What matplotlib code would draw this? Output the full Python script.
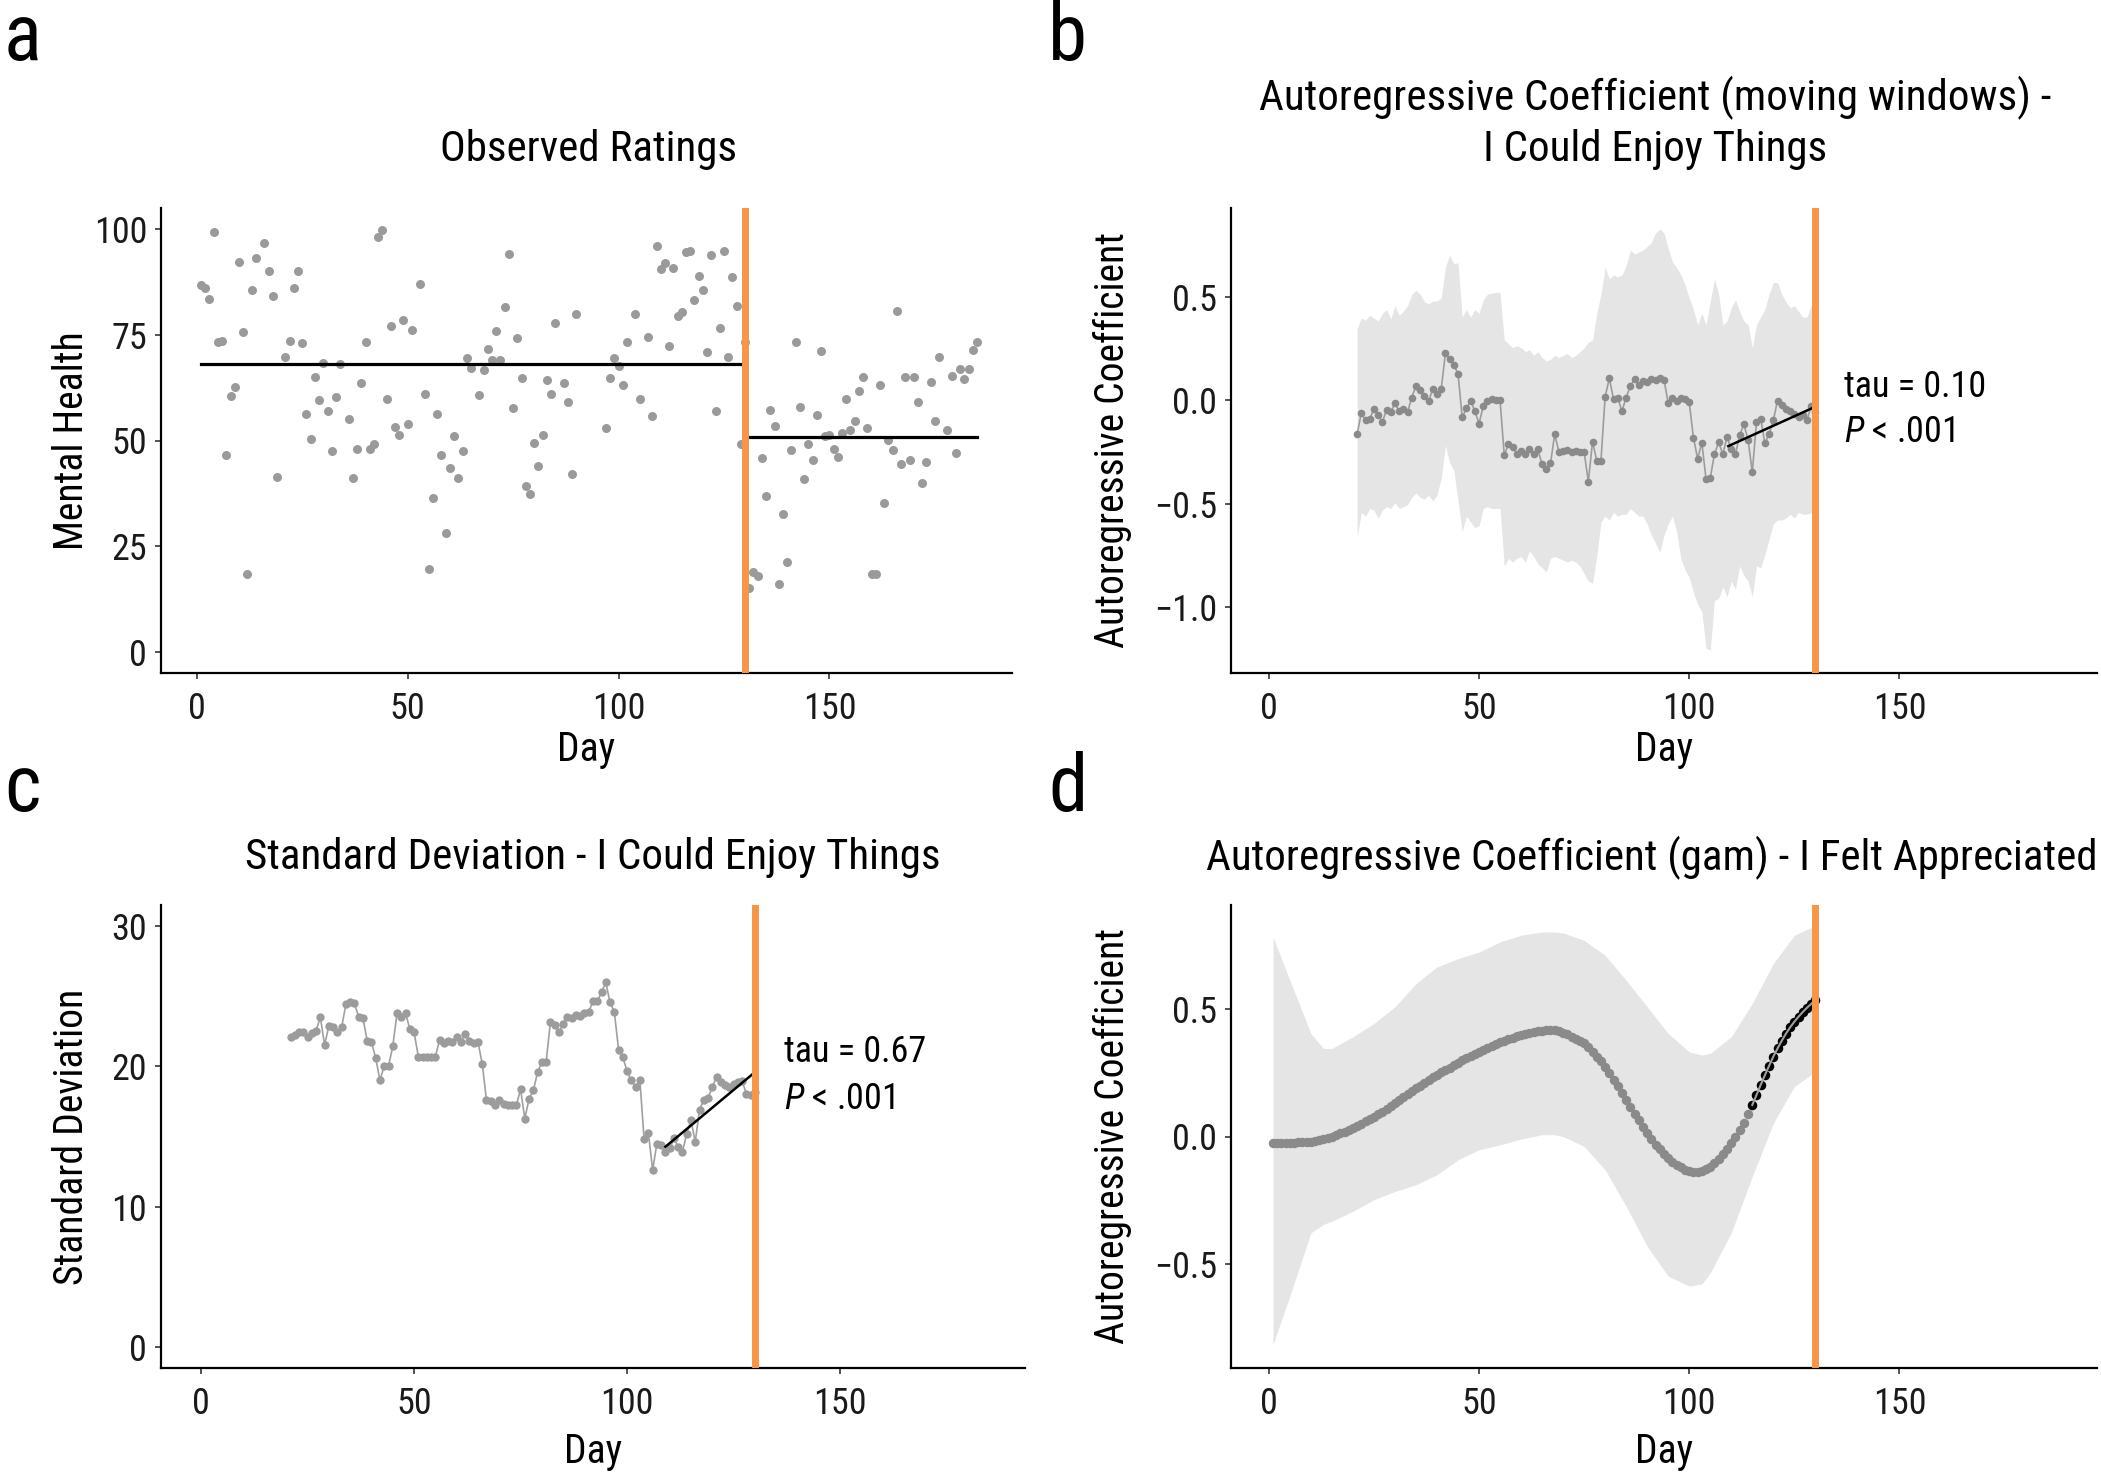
import numpy as np
import matplotlib
matplotlib.use("Agg")
import matplotlib.pyplot as plt
import matplotlib.ticker as mticker
from matplotlib import font_manager as fm

# condensed sans (Helvetica Condensed look-alike), first one installed
installed = set(f.name for f in fm.fontManager.ttflist)
FONT = 'DejaVu Sans'
for cand in ['Liberation Sans Narrow', 'Nimbus Sans Narrow', 'Roboto Condensed',
             'Archivo Narrow', 'PT Sans Narrow', 'Barlow Semi Condensed']:
    if cand in installed:
        FONT = cand
        break
plt.rcParams['font.family'] = [FONT, 'DejaVu Sans']
plt.rcParams['mathtext.fontset'] = 'custom'
plt.rcParams['mathtext.it'] = FONT + ':italic'
plt.rcParams['mathtext.rm'] = FONT

# ---------------- data ----------------
# panel a: observed ratings
obs_days = [1, 2, 3, 4, 5, 6, 7, 8, 9, 10, 11, 12, 13, 14, 16, 17, 18, 19, 21, 22,
            23, 24, 25, 26, 27, 28, 29, 30, 31, 32, 33, 34, 36, 37, 38, 39, 40, 41, 42, 43,
            44, 45, 46, 47, 48, 49, 50, 51, 53, 54, 55, 56, 57, 58, 59, 60, 61, 62, 63, 64,
            65, 67, 68, 69, 70, 71, 72, 73, 74, 75, 76, 77, 78, 79, 80, 81, 82, 83, 84, 85,
            87, 88, 89, 90, 97, 98, 99, 100, 101, 102, 104, 105, 107, 108, 109, 110, 111, 112, 113, 114,
            115, 116, 117, 118, 119, 120, 121, 122, 123, 124, 125, 126, 127, 128, 129, 130,
            131, 132, 133, 134, 135, 136, 137, 138, 139, 140, 141, 142, 143, 144, 145, 146, 147, 148, 149, 150,
            151, 152, 153, 154, 155, 156, 157, 158, 159, 160, 161, 162, 163, 164, 165, 166, 167, 168, 169, 170,
            171, 172, 173, 174, 175, 176, 178, 179, 180, 181, 182, 183, 184, 185]
obs_vals = [86.9, 86.0, 83.5, 99.4, 73.2, 73.6, 46.6, 60.5, 62.7, 92.2, 75.6, 18.5, 85.6, 93.1, 96.8, 90.1, 84.2, 41.4, 69.8, 73.6,
            86.0, 90.1, 73.0, 56.3, 50.4, 65.1, 59.6, 68.3, 57.0, 47.4, 60.4, 68.0, 55.2, 41.1, 48.1, 63.5, 73.3, 48.1, 49.1, 98.2,
            99.8, 59.8, 77.2, 53.1, 51.2, 78.5, 54.0, 76.2, 87.0, 60.9, 19.7, 36.5, 56.3, 46.5, 28.2, 43.5, 51.1, 41.1, 47.4, 69.5,
            67.2, 60.8, 66.6, 71.7, 69.1, 75.8, 69.1, 81.5, 94.1, 57.8, 74.2, 64.9, 39.3, 37.4, 49.3, 44.0, 51.4, 64.3, 61.0, 77.9,
            63.5, 59.0, 42.0, 80.0, 53.0, 64.7, 69.6, 67.7, 63.2, 73.2, 80.0, 59.8, 74.6, 55.7, 96.1, 90.5, 92.1, 72.3, 90.8, 79.5,
            80.3, 94.7, 94.8, 83.3, 88.9, 85.5, 71.0, 93.8, 57.0, 76.6, 94.9, 69.8, 88.6, 81.7, 49.1, 73.3,
            15.2, 18.9, 17.9, 45.9, 36.9, 57.1, 53.4, 16.0, 32.6, 21.2, 47.8, 73.2, 58.0, 40.8, 49.2, 45.5, 56.1, 71.2, 51.0, 51.4,
            48.1, 46.2, 51.8, 59.8, 52.5, 54.5, 61.6, 65.0, 53.0, 18.4, 18.4, 63.1, 35.2, 50.1, 47.8, 80.7, 44.5, 65.0, 45.3, 65.0,
            59.1, 39.9, 45.0, 63.8, 54.5, 69.7, 52.5, 65.2, 47.1, 66.9, 64.6, 66.9, 71.4, 73.2]
pre_mean = 68.1
post_mean = 50.9
transition_day = 130

# panel b: moving-window AR coefficient, days 21..130
ar_days = list(range(21, 131))
ar_vals = [-0.165, -0.061, -0.098, -0.09, -0.043, -0.07, -0.106, -0.048, -0.056, -0.015,
           -0.052, -0.043, -0.057, 0.013, 0.069, 0.05, 0.022, -0.006, 0.054, 0.031,
           0.054, 0.226, 0.198, 0.17, 0.128, -0.083, -0.039, -0.002, -0.052, -0.113,
           -0.03, -0.002, 0.004, 0.0, 0.0, -0.265, -0.213, -0.228, -0.261, -0.246,
           -0.261, -0.237, -0.261, -0.237, -0.311, -0.333, -0.306, -0.165, -0.25, -0.246,
           -0.239, -0.25, -0.246, -0.25, -0.25, -0.394, -0.2, -0.293, -0.293, 0.017,
           0.106, 0.004, 0.009, -0.052, 0.013, 0.069, 0.102, 0.072, 0.091, 0.087,
           0.102, 0.096, 0.109, 0.1, -0.015, 0.009, -0.002, 0.013, 0.004, -0.011,
           -0.181, -0.283, -0.206, -0.381, -0.376, -0.261, -0.204, -0.261, -0.178, -0.237,
           -0.261, -0.169, -0.117, -0.191, -0.348, -0.107, -0.089, -0.209, -0.163, -0.098,
           -0.002, -0.024, -0.043, -0.052, -0.065, -0.08, -0.07, -0.098, -0.028, -0.057]
ar_upper = [0.346, 0.398, 0.387, 0.411, 0.398, 0.383, 0.420, 0.439, 0.393, 0.457,
            0.411, 0.430, 0.457, 0.513, 0.531, 0.513, 0.476, 0.467, 0.480, 0.480,
            0.494, 0.643, 0.702, 0.661, 0.665, 0.402, 0.439, 0.402, 0.439, 0.420,
            0.485, 0.513, 0.517, 0.522, 0.522, 0.291, 0.272, 0.254, 0.263, 0.254,
            0.235, 0.244, 0.217, 0.235, 0.207, 0.189, 0.198, 0.217, 0.207, 0.217,
            0.226, 0.207, 0.217, 0.235, 0.254, 0.281, 0.291, 0.420, 0.513, 0.643,
            0.587, 0.606, 0.596, 0.606, 0.652, 0.726, 0.707, 0.717, 0.726, 0.744,
            0.763, 0.809, 0.828, 0.809, 0.735, 0.670, 0.643, 0.606, 0.559, 0.494,
            0.439, 0.365, 0.420, 0.365, 0.476, 0.587, 0.513, 0.365, 0.383, 0.448,
            0.485, 0.430, 0.383, 0.365, 0.254, 0.365, 0.402, 0.439, 0.513, 0.569,
            0.569, 0.513, 0.476, 0.448, 0.457, 0.430, 0.402, 0.402, 0.457, 0.467]
ar_lower = [-0.663, -0.543, -0.561, -0.524, -0.533, -0.570, -0.533, -0.515, -0.524, -0.496,
            -0.524, -0.515, -0.506, -0.469, -0.450, -0.469, -0.478, -0.459, -0.487, -0.459,
            -0.376, -0.219, -0.302, -0.339, -0.487, -0.635, -0.561, -0.589, -0.617, -0.607,
            -0.524, -0.515, -0.524, -0.524, -0.524, -0.802, -0.765, -0.783, -0.765, -0.756,
            -0.783, -0.728, -0.756, -0.793, -0.811, -0.830, -0.765, -0.756, -0.765, -0.774,
            -0.783, -0.774, -0.783, -0.802, -0.839, -0.876, -0.885, -0.756, -0.589, -0.561,
            -0.580, -0.543, -0.561, -0.552, -0.552, -0.524, -0.543, -0.561, -0.561, -0.598,
            -0.654, -0.691, -0.737, -0.654, -0.598, -0.561, -0.635, -0.765, -0.820, -0.857,
            -0.931, -0.987, -1.024, -1.200, -1.209, -0.969, -0.959, -0.904, -0.950, -0.876,
            -0.913, -0.802, -0.848, -0.876, -0.950, -0.802, -0.811, -0.746, -0.672, -0.598,
            -0.580, -0.580, -0.570, -0.552, -0.570, -0.543, -0.552, -0.552, -0.543, -0.561]
ar_trend_days = [109.3, 130.4]
ar_trend_vals = [-0.222, -0.028]

# panel c: moving-window standard deviation, days 21..130
sd_days = list(range(21, 131))
sd_vals = [22.07, 22.26, 22.43, 22.43, 22.07, 22.36, 22.55, 23.49, 21.53, 22.88,
           22.83, 22.43, 22.78, 24.44, 24.56, 24.49, 23.54, 23.42, 21.84, 21.72,
           20.58, 19.0, 20.06, 20.01, 21.43, 23.78, 23.49, 23.8, 22.66, 22.43,
           20.7, 20.7, 20.7, 20.7, 20.7, 21.88, 21.65, 21.84, 21.72, 22.07,
           21.72, 22.31, 21.84, 21.65, 21.72, 20.18, 17.58, 17.53, 17.27, 17.58,
           17.34, 17.22, 17.22, 17.22, 18.36, 16.28, 17.7, 18.29, 19.59, 20.3,
           20.3, 23.14, 22.97, 22.43, 23.02, 23.49, 23.44, 23.68, 23.61, 23.78,
           23.85, 24.67, 24.63, 25.27, 25.98, 24.56, 23.89, 21.2, 20.65, 19.66,
           19.0, 18.52, 19.04, 14.79, 15.26, 12.61, 14.5, 14.38, 13.91, 14.15,
           14.86, 14.27, 13.91, 15.21, 16.16, 14.62, 16.92, 17.58, 17.77, 18.52,
           19.23, 18.88, 18.64, 18.52, 18.71, 18.88, 18.95, 18.05, 17.98, 18.17]
sd_trend_days = [109, 130.3]
sd_trend_vals = [14.27, 19.66]

# panel d: gam AR coefficient, days 1..130
gam_days = list(range(1, 131))
gam_vals = [-0.024, -0.024, -0.024, -0.024, -0.024, -0.024, -0.023, -0.022, -0.021, -0.020,
            -0.017, -0.013, -0.009, -0.005, 0.000, 0.006, 0.012, 0.018, 0.025, 0.033,
            0.041, 0.050, 0.059, 0.068, 0.078, 0.088, 0.098, 0.109, 0.119, 0.130,
            0.142, 0.154, 0.166, 0.178, 0.190, 0.200, 0.211, 0.221, 0.232, 0.242,
            0.252, 0.262, 0.271, 0.281, 0.290, 0.299, 0.308, 0.316, 0.325, 0.333,
            0.341, 0.348, 0.356, 0.363, 0.370, 0.376, 0.382, 0.389, 0.395, 0.400,
            0.404, 0.408, 0.411, 0.414, 0.416, 0.417, 0.418, 0.417, 0.413, 0.408,
            0.401, 0.393, 0.384, 0.375, 0.366, 0.350, 0.333, 0.314, 0.295, 0.274,
            0.249, 0.223, 0.197, 0.170, 0.144, 0.117, 0.090, 0.064, 0.038, 0.013,
            -0.010, -0.032, -0.051, -0.069, -0.085, -0.099, -0.111, -0.121, -0.130, -0.136,
            -0.139, -0.140, -0.137, -0.129, -0.118, -0.104, -0.088, -0.069, -0.048, -0.026,
            -0.001, 0.026, 0.055, 0.089, 0.124, 0.163, 0.203, 0.241, 0.278, 0.314,
            0.346, 0.376, 0.404, 0.429, 0.451, 0.471, 0.489, 0.506, 0.521, 0.536]
gam_band_days = [1, 5, 10, 13, 15, 20, 25, 30, 35, 40, 45, 50, 55, 60, 65, 68, 70, 75, 80,
                 85, 90, 95, 100, 103, 105, 110, 115, 120, 125, 130]
gam_upper = [0.784, 0.614, 0.405, 0.346, 0.346, 0.392, 0.444, 0.510, 0.601, 0.667, 0.699,
             0.725, 0.765, 0.791, 0.804, 0.804, 0.800, 0.771, 0.712, 0.614, 0.510, 0.405,
             0.333, 0.320, 0.327, 0.392, 0.523, 0.680, 0.791, 0.829]
gam_lower = [-0.817, -0.627, -0.379, -0.345, -0.333, -0.294, -0.248, -0.216, -0.190, -0.150,
             -0.092, -0.052, -0.033, -0.010, 0.007, 0.007, 0.000, -0.039, -0.131, -0.275,
             -0.431, -0.549, -0.588, -0.580, -0.536, -0.379, -0.157, 0.052, 0.196, 0.255]
gam_trend_start = 115

# ---------------- styling ----------------
W, H = 2101, 1476
ORANGE = '#F79646'
BAND = '#E5E5E5'
TICK_FS = 26
LABEL_FS = 28.5
TITLE_FS = 31


def rect(l, r, t, b):
    return [l / W, 1 - b / H, (r - l) / W, (b - t) / H]


def minus_fmt(v, p):
    return ('%.1f' % v).replace('-', '\u2212')


def style(ax, xlim, ylim, yticks, ylabel, ylab_x, xlab_y):
    ax.set_xlim(*xlim)
    ax.set_ylim(*ylim)
    ax.set_xticks([0, 50, 100, 150])
    ax.set_yticks(yticks)
    for s in ['top', 'right']:
        ax.spines[s].set_visible(False)
    for s in ['left', 'bottom']:
        ax.spines[s].set_linewidth(1.6)
        ax.spines[s].set_color('black')
    ax.tick_params(axis='both', labelsize=TICK_FS, length=4, width=1.2,
                   color='#333333', labelcolor='#1a1a1a')
    ax.tick_params(axis='x', pad=9)
    ax.tick_params(axis='y', pad=6)
    ax.set_xlabel('Day', fontsize=LABEL_FS)
    ax.set_ylabel(ylabel, fontsize=LABEL_FS)
    ax.yaxis.set_label_coords(ylab_x, 0.5)
    ax.xaxis.set_label_coords(0.5, xlab_y)


fig = plt.figure(figsize=(W / 100, H / 100), dpi=100)

# ---- panel a ----
ax_a = fig.add_axes(rect(161, 1012, 208, 673))
ax_a.scatter(obs_days, obs_vals, s=42, color='#9a9a9a', linewidths=0, zorder=2)
ax_a.plot([obs_days[0], transition_day], [pre_mean, pre_mean], color='black', lw=2.3, zorder=3)
ax_a.plot([transition_day, obs_days[-1]], [post_mean, post_mean], color='black', lw=2.3, zorder=3)
ax_a.axvline(transition_day, color=ORANGE, lw=5, zorder=4)
style(ax_a, (-8.5, 193.3), (-5, 105), [0, 25, 50, 75, 100], 'Mental Health', -0.082, -0.123)

# ---- panel b ----
ax_b = fig.add_axes(rect(1231, 2097, 208, 673))
ax_b.fill_between(ar_days, ar_lower, ar_upper, color=BAND, lw=0, zorder=1)
ax_b.plot(ar_days, ar_vals, color='#9c9c9c', lw=1.2, zorder=2)
ax_b.plot(ar_days, ar_vals, 'o', color='#8a8a8a', ms=5.5, mew=0, zorder=3)
ax_b.plot(ar_trend_days, ar_trend_vals, color='black', lw=1.8, zorder=4)
ax_b.axvline(transition_day, color=ORANGE, lw=5, zorder=5)
style(ax_b, (-9, 197), (-1.32, 0.93), [-1.0, -0.5, 0.0, 0.5],
      'Autoregressive Coefficient', -0.114, -0.123)
ax_b.yaxis.set_major_formatter(mticker.FuncFormatter(minus_fmt))
ax_b.text(136.9, 0.065, 'tau = 0.10', fontsize=TICK_FS, va='center', ha='left')
ax_b.text(136.9, -0.156, r'$P$ < .001', fontsize=TICK_FS, va='center', ha='left')

# ---- panel c ----
ax_c = fig.add_axes(rect(161, 1025, 905, 1368))
ax_c.plot(sd_days, sd_vals, color='#a0a0a0', lw=1.2, zorder=2)
ax_c.plot(sd_days, sd_vals, 'o', color='#9c9c9c', ms=6, mew=0, zorder=3)
ax_c.plot(sd_trend_days, sd_trend_vals, color='black', lw=1.8, zorder=4)
ax_c.axvline(transition_day, color=ORANGE, lw=5, zorder=5)
style(ax_c, (-9.4, 193.4), (-1.5, 31.5), [0, 10, 20, 30],
      'Standard Deviation', -0.081, -0.138)
ax_c.text(136.8, 21.0, 'tau = 0.67', fontsize=TICK_FS, va='center', ha='left')
ax_c.text(136.8, 17.7, r'$P$ < .001', fontsize=TICK_FS, va='center', ha='left')

# ---- panel d ----
ax_d = fig.add_axes(rect(1231, 2097, 905, 1368))
ax_d.fill_between(gam_band_days, gam_lower, gam_upper, color=BAND, lw=0, zorder=1)
ax_d.plot(gam_days, gam_vals, 'o', color='#8a8a8a', ms=6.8, mew=0, zorder=2)
k = gam_days.index(gam_trend_start)
ax_d.plot(gam_days[k:], gam_vals[k:], 'o', color='black', ms=6.8, mew=0, zorder=3)
ax_d.plot(gam_days[k:], gam_vals[k:], color='#a0a0a0', lw=1.5, zorder=4)
ax_d.axvline(transition_day, color=ORANGE, lw=5, zorder=5)
style(ax_d, (-9, 197), (-0.91, 0.91), [-0.5, 0.0, 0.5],
      'Autoregressive Coefficient', -0.114, -0.138)
ax_d.yaxis.set_major_formatter(mticker.FuncFormatter(minus_fmt))

# ---- titles and panel letters ----
fig.text(589 / W, 1 - 150 / H, 'Observed Ratings', fontsize=TITLE_FS, ha='center', va='center')
fig.text(1655 / W, 1 - 98 / H, 'Autoregressive Coefficient (moving windows) -',
         fontsize=TITLE_FS, ha='center', va='center')
fig.text(1655 / W, 1 - 150 / H, 'I Could Enjoy Things', fontsize=TITLE_FS, ha='center', va='center')
fig.text(593 / W, 1 - 858 / H, 'Standard Deviation - I Could Enjoy Things',
         fontsize=TITLE_FS, ha='center', va='center')
fig.text(1652 / W, 1 - 858 / H, 'Autoregressive Coefficient (gam) - I Felt Appreciated',
         fontsize=TITLE_FS, ha='center', va='center')

for letter, x, y in [('a', 4, 60), ('b', 1048, 60), ('c', 4, 811), ('d', 1048, 811)]:
    fig.text(x / W, 1 - y / H, letter, fontsize=57, ha='left', va='baseline')

fig.savefig('out.png', dpi=100)
